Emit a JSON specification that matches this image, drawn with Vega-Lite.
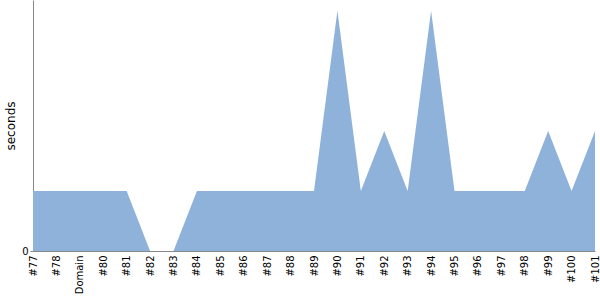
{
  "$schema": "https://vega.github.io/schema/vega-lite/v6.json",
  "width": 562,
  "height": 251,
  "autosize": {"type": "none"},
  "padding": {"left": 33, "top": 0, "right": 5, "bottom": 49},
  "config": {"view": {"stroke": null}, "font": "DejaVu Sans"},
  "data": {"values": [
    {"build": "#77", "seconds": 1},
    {"build": "#78", "seconds": 1},
    {"build": "Domain", "seconds": 1},
    {"build": "#80", "seconds": 1},
    {"build": "#81", "seconds": 1},
    {"build": "#82", "seconds": 0},
    {"build": "#83", "seconds": 0},
    {"build": "#84", "seconds": 1},
    {"build": "#85", "seconds": 1},
    {"build": "#86", "seconds": 1},
    {"build": "#87", "seconds": 1},
    {"build": "#88", "seconds": 1},
    {"build": "#89", "seconds": 1},
    {"build": "#90", "seconds": 4},
    {"build": "#91", "seconds": 1},
    {"build": "#92", "seconds": 2},
    {"build": "#93", "seconds": 1},
    {"build": "#94", "seconds": 4},
    {"build": "#95", "seconds": 1},
    {"build": "#96", "seconds": 1},
    {"build": "#97", "seconds": 1},
    {"build": "#98", "seconds": 1},
    {"build": "#99", "seconds": 2},
    {"build": "#100", "seconds": 1},
    {"build": "#101", "seconds": 2}
  ]},
  "mark": {"type": "area", "color": "#8fb2da", "opacity": 1, "interpolate": "linear"},
  "encoding": {
    "x": {
      "field": "build", "type": "ordinal", "sort": null,
      "scale": {"type": "point", "padding": 0},
      "axis": {"title": null, "labelAngle": -90, "labelFontSize": 10, "labelColor": "#000", "ticks": false, "domainColor": "#888", "labelPadding": 4, "grid": false}
    },
    "y": {
      "field": "seconds", "type": "quantitative",
      "scale": {"domain": [0, 4.18], "nice": false},
      "axis": {"title": "seconds", "titleFontSize": 12, "titleFontWeight": "normal", "titleColor": "#000", "values": [0], "labelFontSize": 10, "labelColor": "#000", "tickSize": 3, "tickColor": "#888", "domainColor": "#888", "grid": false, "titlePadding": 4}
    }
  }
}
